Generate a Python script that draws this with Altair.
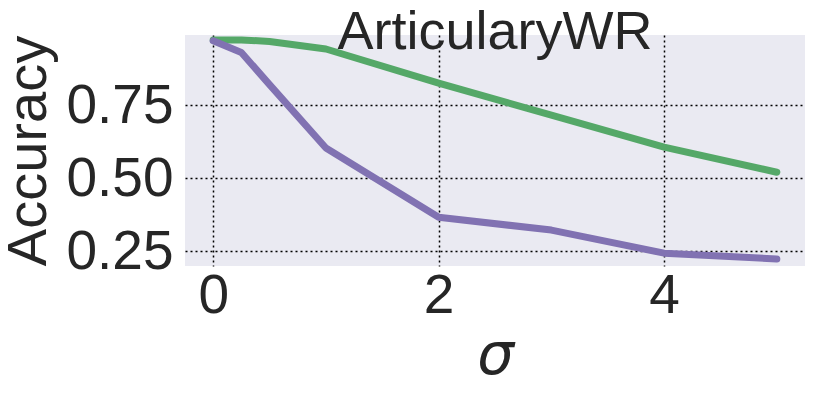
import altair as alt
import pandas as pd

sigma = [0, 0.25, 0.5, 1, 2, 3, 4, 5]
green_acc = [0.973, 0.973, 0.968, 0.942, 0.825, 0.716, 0.606, 0.52]
purple_acc = [0.97, 0.93, 0.82, 0.603, 0.366, 0.322, 0.243, 0.223]
series_names = ["A", "B"]
colors = ["#55a868", "#8172b2"]

rows = []
for s, g in zip(sigma, green_acc):
    rows.append({"sigma": s, "acc": g, "series": series_names[0]})
for s, p in zip(sigma, purple_acc):
    rows.append({"sigma": s, "acc": p, "series": series_names[1]})
df = pd.DataFrame(rows)

font = "Liberation Sans"

chart = alt.Chart(df).mark_line(strokeWidth=7, strokeCap="round", strokeJoin="round").encode(
    x=alt.X("sigma:Q", scale=alt.Scale(domain=[-0.25, 5.25], nice=False, zero=False),
            axis=alt.Axis(values=[0, 2, 4], title="σ", format="d",
                          titleFont="DejaVu Sans", titleFontSize=58,
                          titleFontStyle="italic", titleFontWeight="normal",
                          labelPadding=3, titlePadding=4)),
    y=alt.Y("acc:Q", scale=alt.Scale(domain=[0.199, 0.99], nice=False, zero=False),
            axis=alt.Axis(values=[0.25, 0.5, 0.75], format=".2f", title="Accuracy",
                          titleFontSize=56, titleFontWeight="normal",
                          labelPadding=12, titlePadding=8)),
    color=alt.Color("series:N", scale=alt.Scale(domain=series_names, range=colors), legend=None),
).properties(
    width=620, height=231,
    title=alt.TitleParams("ArticularyWR", fontSize=54, font=font, fontWeight="normal",
                          color="#262626", offset=-25, anchor="middle"),
    autosize=alt.AutoSizeParams(type="none"),
    padding={"left": 177, "top": 27, "right": 1, "bottom": 120},
).configure_view(
    fill="#eaeaf2", stroke=None
).configure_axis(
    grid=True, gridColor="black", gridDash=[2, 3], gridWidth=1.5, gridOpacity=1,
    domain=False, ticks=False,
    labelFont=font, titleFont=font, labelFontSize=55, titleFontSize=55,
    labelColor="#262626", titleColor="#262626",
)

chart.save("out.html", embed_options={"renderer": "svg", "actions": False})
